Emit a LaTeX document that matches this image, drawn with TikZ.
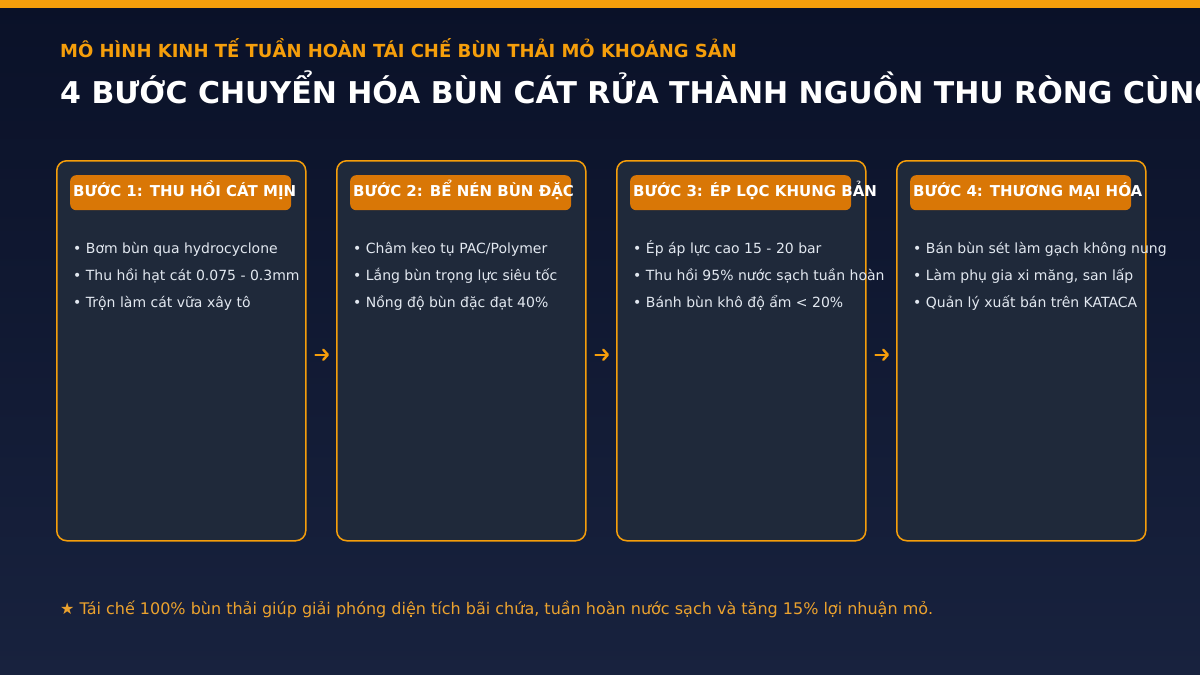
\documentclass[tikz,border=0pt]{standalone}
\usepackage{fontspec}
\setmainfont{DejaVu Sans}
\usetikzlibrary{calc,arrows.meta}
\definecolor{bgtop}{HTML}{0A1128}
\definecolor{bgbot}{HTML}{18223E}
\definecolor{amber}{HTML}{F59E0B}
\definecolor{pillc}{HTML}{D97706}
\definecolor{cardc}{HTML}{1F293A}
\definecolor{bullc}{HTML}{E2E8F0}
\definecolor{footc}{HTML}{EBA22E}
\begin{document}
\begin{tikzpicture}[x=1pt,y=-1pt,
  card/.style={draw=amber, line width=1.5pt, fill=cardc, rounded corners=10pt,
    minimum width=249pt, minimum height=380pt, anchor=north west, inner sep=0pt},
  pill/.style={fill=pillc, rounded corners=6pt, minimum width=221pt,
    minimum height=35pt, anchor=north west, inner sep=0pt},
  head/.style={text=white, font=\bfseries\fontsize{15}{18}\selectfont,
    anchor=base west, inner sep=0pt},
  item/.style={text=bullc, font=\fontsize{14}{17}\selectfont,
    anchor=base west, inner sep=0pt},
  flowarrow/.style={draw=amber, line width=2.4pt, line cap=round,
    -{Straight Barb[length=4.5pt,width=10pt,line width=2.4pt,round]}},
  subtitle/.style={text=amber, font=\bfseries\fontsize{18}{22}\selectfont,
    anchor=base west, inner sep=0pt},
  maintitle/.style={text=white, font=\bfseries\fontsize{30}{36}\selectfont,
    anchor=base west, inner sep=0pt},
  footer/.style={text=footc, font=\fontsize{16}{20}\selectfont,
    anchor=base west, inner sep=0pt}]

\useasboundingbox (0,0) rectangle (1200,675);
\shade[top color=bgtop, bottom color=bgbot] (0,0) rectangle (1200,675);
\fill[amber] (0,0) rectangle (1200,8);

\node[subtitle] (sub) at (60,57) {MÔ HÌNH KINH TẾ TUẦN HOÀN TÁI CHẾ BÙN THẢI MỎ KHOÁNG SẢN};
\node[maintitle] (title) at (60,103) {4 BƯỚC CHUYỂN HÓA BÙN CÁT RỬA THÀNH NGUỒN THU RÒNG CÙNG};

% cards
\node[card] (c1) at (56,160) {};
\node[card] (c2) at (336,160) {};
\node[card] (c3) at (616,160) {};
\node[card] (c4) at (896,160) {};

% header pills
\node[pill] (p1) at (70,175) {};
\node[pill] (p2) at (350,175) {};
\node[pill] (p3) at (630,175) {};
\node[pill] (p4) at (910,175) {};

\node[head] (h1) at (73,196) {BƯỚC 1: THU HỒI CÁT MỊN};
\node[head] (h2) at (353,196) {BƯỚC 2: BỂ NÉN BÙN ĐẶC};
\node[head] (h3) at (633,196) {BƯỚC 3: ÉP LỌC KHUNG BẢN};
\node[head] (h4) at (913,196) {BƯỚC 4: THƯƠNG MẠI HÓA};

% bullets
\node[item] (b11) at (73,253) {• Bơm bùn qua hydrocyclone};
\node[item] (b12) at (73,280) {• Thu hồi hạt cát 0.075 - 0.3mm};
\node[item] (b13) at (73,307) {• Trộn làm cát vữa xây tô};

\node[item] (b21) at (353,253) {• Châm keo tụ PAC/Polymer};
\node[item] (b22) at (353,280) {• Lắng bùn trọng lực siêu tốc};
\node[item] (b23) at (353,307) {• Nồng độ bùn đặc đạt 40\%};

\node[item] (b31) at (633,253) {• Ép áp lực cao 15 - 20 bar};
\node[item] (b32) at (633,280) {• Thu hồi 95\% nước sạch tuần hoàn};
\node[item] (b33) at (633,307) {• Bánh bùn khô độ ẩm < 20\%};

\node[item] (b41) at (913,253) {• Bán bùn sét làm gạch không nung};
\node[item] (b42) at (913,280) {• Làm phụ gia xi măng, san lấp};
\node[item] (b43) at (913,307) {• Quản lý xuất bán trên KATACA};

% arrows between cards
\draw[flowarrow] ([xshift=9pt,yshift=-4pt]c1.east) -- ([xshift=-7pt,yshift=-4pt]c2.west);
\draw[flowarrow] ([xshift=9pt,yshift=-4pt]c2.east) -- ([xshift=-7pt,yshift=-4pt]c3.west);
\draw[flowarrow] ([xshift=9pt,yshift=-4pt]c3.east) -- ([xshift=-7pt,yshift=-4pt]c4.west);

\node[footer] (foot) at (60,614) {★ Tái chế 100\% bùn thải giúp giải phóng diện tích bãi chứa, tuần hoàn nước sạch và tăng 15\% lợi nhuận mỏ.};
\end{tikzpicture}
\end{document}
